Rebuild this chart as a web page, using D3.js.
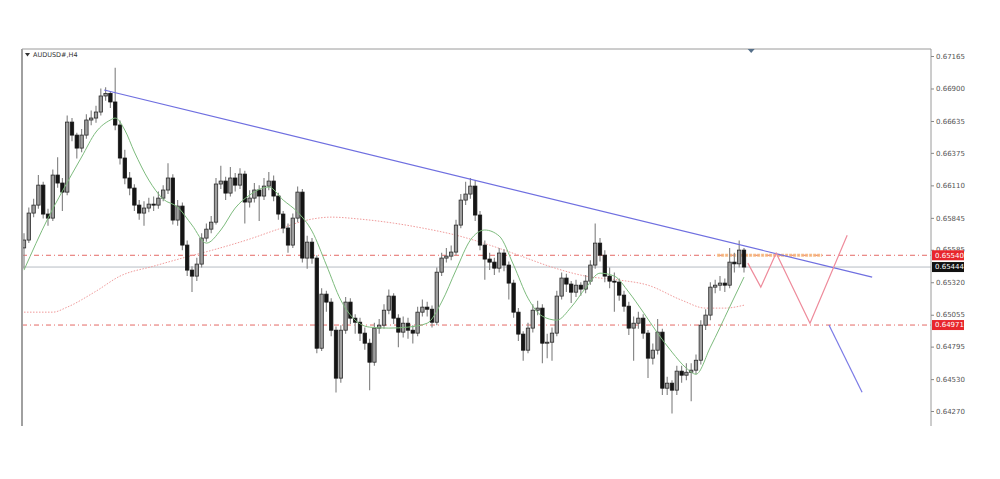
<!DOCTYPE html>
<html><head><meta charset="utf-8">
<script src="https://cdn.jsdelivr.net/npm/d3@7"></script>
<style>body{margin:0;background:#fff}svg{display:block}</style>
</head><body><svg id="c" width="1000" height="479"></svg>
<script>
const symbolTitle = "AUDUSD#,H4";
const firstOpen = 0.65600;
const closes = [
0.65664,0.65884,0.65949,0.66112,0.65876,0.65843,0.66194,0.66129,0.66055,0.66626,
0.66520,0.66414,0.66520,0.66643,0.66659,0.66708,0.66839,0.66860,0.66790,0.66602,
0.66333,0.66170,0.66088,0.65949,0.65884,0.65925,0.65957,0.65949,0.66006,0.66072,
0.66170,0.65827,0.65941,0.65623,0.65419,0.65370,0.65468,0.65680,0.65753,0.65810,
0.66121,0.66145,0.66047,0.66170,0.66112,0.66202,0.65974,0.66006,0.66072,0.66023,
0.66104,0.66145,0.66023,0.65876,0.65762,0.65623,0.65843,0.66055,0.65517,0.65647,
0.65517,0.64782,0.65223,0.65158,0.64929,0.64538,0.64929,0.65158,0.65027,0.64994,
0.64905,0.64823,0.64668,0.64946,0.64970,0.65092,0.65207,0.65027,0.64913,0.64986,
0.64929,0.64905,0.65076,0.65117,0.65100,0.64994,0.65402,0.65517,0.65533,0.65566,
0.65786,0.65990,0.66039,0.66104,0.65868,0.65623,0.65509,0.65484,0.65435,0.65558,
0.65460,0.65313,0.65076,0.64897,0.64766,0.64946,0.65092,0.65109,0.64823,0.64831,
0.64905,0.65207,0.65354,0.65305,0.65239,0.65296,0.65264,0.65329,0.65460,0.65639,
0.65541,0.65370,0.65329,0.65321,0.65215,0.65125,0.64946,0.64986,0.65027,0.64905,
0.64701,0.64766,0.64913,0.64456,0.64497,0.64440,0.64595,0.64562,0.64586,0.64603,
0.64684,0.64970,0.65052,0.65280,0.65296,0.65313,0.65296,0.65484,0.65470,0.65582,
0.65444];
const highs = [
0.65720,0.65930,0.66000,0.66195,0.66140,0.65920,0.66240,0.66340,0.66170,0.66680,
0.66660,0.66540,0.66570,0.66690,0.66720,0.66760,0.66900,0.66910,0.66880,0.67070,
0.66640,0.66400,0.66220,0.66120,0.65990,0.65980,0.66010,0.66020,0.66060,0.66110,
0.66290,0.66200,0.65990,0.65970,0.65660,0.65450,0.65520,0.65720,0.65800,0.65860,
0.66170,0.66270,0.66180,0.66260,0.66210,0.66250,0.66230,0.66070,0.66130,0.66110,
0.66170,0.66220,0.66190,0.66050,0.65900,0.65800,0.65880,0.66100,0.66080,0.65700,
0.65680,0.65540,0.65270,0.65250,0.65190,0.64960,0.64970,0.65200,0.65190,0.65060,
0.65030,0.64950,0.64860,0.64990,0.65020,0.65140,0.65260,0.65230,0.65060,0.65040,
0.65030,0.64970,0.65120,0.65180,0.65160,0.65130,0.65440,0.65560,0.65600,0.65620,
0.65830,0.66040,0.66140,0.66170,0.66150,0.65900,0.65660,0.65560,0.65520,0.65600,
0.65590,0.65490,0.65340,0.65110,0.64920,0.64990,0.65140,0.65170,0.65140,0.64900,
0.64950,0.65250,0.65400,0.65390,0.65330,0.65340,0.65320,0.65380,0.65500,0.65800,
0.65680,0.65580,0.65440,0.65400,0.65350,0.65250,0.65160,0.65040,0.65080,0.65060,
0.64930,0.64820,0.65020,0.64940,0.64550,0.64520,0.64640,0.64640,0.64660,0.64660,
0.64730,0.65010,0.65100,0.65320,0.65340,0.65370,0.65350,0.65600,0.65560,0.65660,
0.65600];
const lows = [
0.65430,0.65640,0.65850,0.65920,0.65840,0.65780,0.65820,0.66090,0.65900,0.66030,
0.66470,0.66330,0.66380,0.66490,0.66600,0.66620,0.66680,0.66800,0.66740,0.66560,
0.66280,0.66120,0.66030,0.65900,0.65830,0.65780,0.65890,0.65900,0.65920,0.65980,
0.66040,0.65790,0.65780,0.65580,0.65370,0.65240,0.65330,0.65440,0.65650,0.65720,
0.65790,0.66080,0.65990,0.66020,0.66060,0.66080,0.65800,0.65930,0.65970,0.65820,
0.65990,0.66070,0.65980,0.65830,0.65720,0.65560,0.65600,0.65810,0.65480,0.65430,
0.65470,0.64740,0.64760,0.65080,0.64880,0.64420,0.64500,0.64900,0.64980,0.64900,
0.64840,0.64770,0.64440,0.64640,0.64900,0.64940,0.65060,0.64980,0.64790,0.64870,
0.64860,0.64820,0.64880,0.65040,0.65040,0.64950,0.64970,0.65370,0.65480,0.65500,
0.65540,0.65760,0.65950,0.66000,0.65820,0.65580,0.65340,0.65420,0.65380,0.65400,
0.65410,0.65180,0.65030,0.64840,0.64680,0.64740,0.64910,0.65050,0.64660,0.64700,
0.64680,0.64880,0.65180,0.65240,0.65150,0.65200,0.65210,0.65230,0.65300,0.65430,
0.65490,0.65320,0.65270,0.65080,0.65170,0.65080,0.64890,0.64680,0.64940,0.64860,
0.64540,0.64650,0.64730,0.64400,0.64400,0.64250,0.64400,0.64500,0.64520,0.64350,
0.64570,0.64650,0.64930,0.65010,0.65230,0.65250,0.65240,0.65270,0.65400,0.65440,
0.65400];
// moving averages (candle index, price)
const greenIdx = [0,5,8,12,15,18,19,21,23,26,29,32,35,38,41,44,47,51,54,57,60,63,66,69,72,76,80,84,87,90,93,96,99,102,105,108,111,114,117,120,123,126,129,132,135,138,140,143,147,150];
const greenMA  = [0.65419,0.65843,0.66063,0.66341,0.66545,0.66643,0.66659,0.66561,0.66382,0.66153,0.65998,0.65933,0.65786,0.65639,0.65746,0.65925,0.66031,0.66096,0.65990,0.65892,0.65737,0.65460,0.65174,0.65011,0.64954,0.64946,0.64954,0.64986,0.65158,0.65419,0.65664,0.65746,0.65697,0.65460,0.65190,0.65043,0.65011,0.65117,0.65272,0.65394,0.65370,0.65239,0.65076,0.64905,0.64750,0.64619,0.64570,0.64791,0.65117,0.65362];
const pinkIdx = [0,6,9,15,20,27,33,40,47,53,60,64,70,77,83,90,97,103,110,117,124,130,137,142,146,150];
const pinkMA  = [0.65076,0.65076,0.65117,0.65247,0.65370,0.65451,0.65517,0.65590,0.65672,0.65753,0.65835,0.65851,0.65835,0.65802,0.65762,0.65704,0.65623,0.65541,0.65443,0.65370,0.65338,0.65296,0.65174,0.65109,0.65109,0.65133];
const tickValues = [0.67165,0.66900,0.66635,0.66375,0.66110,0.65845,0.65585,0.65320,0.65055,0.64795,0.64530,0.64270];
const tickLabels = ["0.67165","0.66900","0.66635","0.66375","0.66110","0.65845","0.65585","0.65320","0.65055","0.64795","0.64530","0.64270"];
const resistance = 0.65540, support = 0.64971, lastPrice = 0.65444;
const trendIdx = [16.7, 176.7], trendPx = [0.66888, 0.65362];
const breakIdx = [167.7, 174.6], breakPx = [0.64971, 0.64423];
const zigIdx = [150.8, 153.5, 156.7, 163.75, 171.5], zigPx = [0.65476, 0.65280, 0.65558, 0.64986, 0.65704];
const zoneIdx = [144.4, 166.25];
const markerIdx = 151.5;

const svg = d3.select("#c");
const L = 22, R = 931, T = 49, B = 426;
const x = d3.scaleLinear().domain([0, 189]).range([24, 931.2]);
const y = d3.scaleLinear().domain([0.64270, 0.67165]).range([411, 56]);

svg.append("defs").append("clipPath").attr("id","clip").append("rect")
  .attr("x", L).attr("y", T).attr("width", R - L).attr("height", B - T);
const g = svg.append("g").attr("clip-path","url(#clip)");

// horizontal levels
g.append("line").attr("x1",L).attr("x2",R).attr("y1",y(lastPrice)).attr("y2",y(lastPrice))
  .attr("stroke","#b7bcc4").attr("stroke-width",1);
[resistance, support].forEach(v => {
  g.append("line").attr("x1",L).attr("x2",R).attr("y1",y(v)).attr("y2",y(v))
    .attr("stroke","#e46a66").attr("stroke-width",1).attr("stroke-dasharray","5,3,1,3");
});
// orange zone
g.append("line").attr("x1",x(zoneIdx[0])).attr("x2",x(zoneIdx[1]))
  .attr("y1",y(resistance)).attr("y2",y(resistance))
  .attr("stroke","#f6b57a").attr("stroke-width",3).attr("stroke-dasharray","3,1").attr("opacity",0.85);

// pink MA (dotted)
const line = d3.line().curve(d3.curveMonotoneX);
g.append("path").attr("d", line(pinkIdx.map((d,i)=>[x(d), y(pinkMA[i])])))
  .attr("fill","none").attr("stroke","#f09a9a").attr("stroke-width",1).attr("stroke-dasharray","1.5,1.5");

// candles
const opens = closes.map((c,i) => i === 0 ? firstOpen : closes[i-1]);
const cg = g.append("g");
closes.forEach((c,i) => {
  const o = opens[i], cx = x(i);
  cg.append("line").attr("x1",cx).attr("x2",cx).attr("y1",y(highs[i])).attr("y2",y(lows[i]))
    .attr("stroke","#8a8a8a").attr("stroke-width",1.2);
  const top = y(Math.max(o,c)), bot = y(Math.min(o,c));
  const bull = c >= o;
  cg.append("rect").attr("x",cx-1.7).attr("width",3.4).attr("y",top).attr("height",Math.max(1,bot-top))
    .attr("fill", bull ? "#9e9e9e" : "#151515").attr("stroke", bull ? "#2a2a2a" : "#151515").attr("stroke-width",0.8);
});

// green MA
g.append("path").attr("d", line(greenIdx.map((d,i)=>[x(d), y(greenMA[i])])))
  .attr("fill","none").attr("stroke","#7dbb7d").attr("stroke-width",1);

// trendline
g.append("line").attr("x1",x(trendIdx[0])).attr("y1",y(trendPx[0])).attr("x2",x(trendIdx[1])).attr("y2",y(trendPx[1]))
  .attr("stroke","#6f6fe0").attr("stroke-width",1.2);
g.append("line").attr("x1",x(breakIdx[0])).attr("y1",y(breakPx[0])).attr("x2",x(breakIdx[1])).attr("y2",y(breakPx[1]))
  .attr("stroke","#7b7be6").attr("stroke-width",1.2);
g.append("path").attr("d", d3.line()(zigIdx.map((d,i)=>[x(d), y(zigPx[i])])))
  .attr("fill","none").attr("stroke","#ee8b9b").attr("stroke-width",1.2);

// frame
svg.append("line").attr("x1",L).attr("x2",R).attr("y1",T).attr("y2",T).attr("stroke","#9a9a9a").attr("stroke-width",1);
svg.append("line").attr("x1",L).attr("x2",L).attr("y1",T).attr("y2",B).attr("stroke","#a0a0a0").attr("stroke-width",2);
svg.append("line").attr("x1",R).attr("x2",R).attr("y1",T).attr("y2",B).attr("stroke","#9a9a9a").attr("stroke-width",1);

// axis
const axis = d3.axisRight(y).tickValues(tickValues).tickSize(3).tickPadding(2)
  .tickFormat((d,i) => tickLabels[i]);
const ag = svg.append("g").attr("transform",`translate(${R},0)`).call(axis);
ag.select(".domain").remove();
ag.selectAll("line").attr("stroke","#888");
ag.selectAll("text").attr("font-family","DejaVu Sans, sans-serif").attr("font-size","7px").attr("fill","#555");

// price labels
[[resistance,"#e8262c"],[lastPrice,"#111"],[support,"#e8262c"]].forEach(([v,col]) => {
  svg.append("rect").attr("x",R+1).attr("y",y(v)-5).attr("width",32).attr("height",10).attr("fill",col);
  svg.append("text").attr("x",R+4).attr("y",y(v)).attr("dy","0.35em")
    .attr("font-family","DejaVu Sans, sans-serif").attr("font-size","7px").attr("fill","#fff").text(v.toFixed(5));
});

// title
svg.append("path").attr("d",`M${L+3},${T+4}L${L+8},${T+4}L${L+5.5},${T+7.5}Z`).attr("fill","#333");
svg.append("text").attr("x",L+11).attr("y",T+7.5).attr("font-family","DejaVu Sans, sans-serif")
  .attr("font-size","6.5px").attr("fill","#333").text(symbolTitle);
// top marker
svg.append("path").attr("d",`M${x(markerIdx)-3.5},${T}L${x(markerIdx)+3.5},${T}L${x(markerIdx)},${T+4}Z`).attr("fill","#56708a");
</script></body></html>
